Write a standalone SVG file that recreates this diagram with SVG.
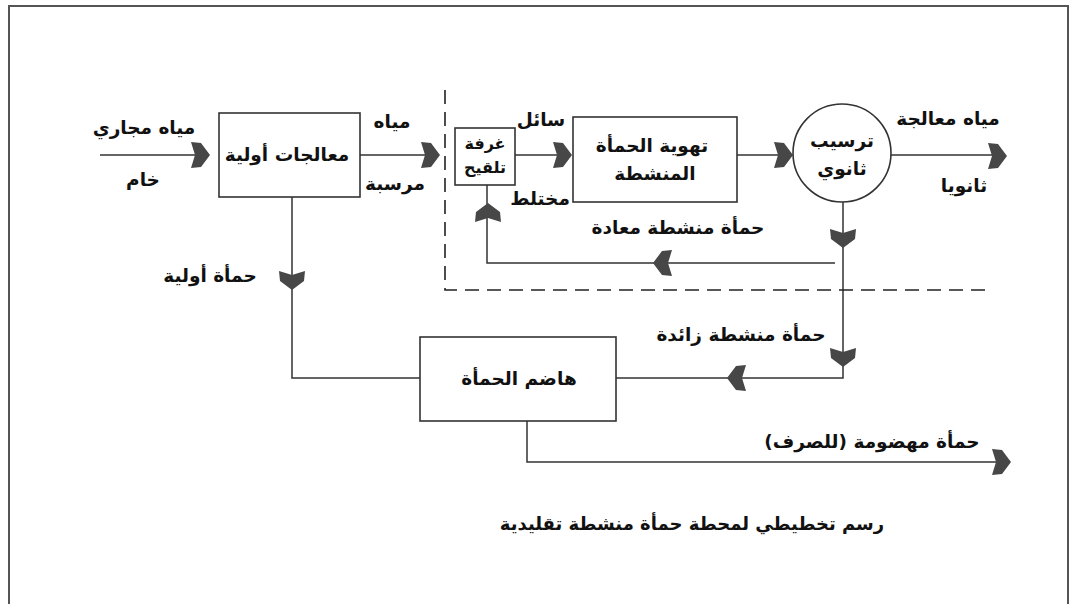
<svg xmlns="http://www.w3.org/2000/svg" width="1071" height="604" viewBox="0 0 1071 604">
<style>
text{font-family:"DejaVu Sans","Noto Sans",sans-serif;font-weight:bold;fill:#111;text-anchor:middle;direction:rtl}
.t{font-size:18.5px}
.s{font-size:16px}
.box{fill:#fff;stroke:#333;stroke-width:1.6}
.ln{fill:none;stroke:#333;stroke-width:1.5}
.dash{fill:none;stroke:#222;stroke-width:1.6;stroke-dasharray:14 8}
.ah{fill:#474747}
</style>
<defs>
<path id="ah" class="ah" d="M0,0 L-9,-12 L-19,-13 L-15,0 L-19,13 L-9,12 Z"/>
</defs>
<rect width="1071" height="604" fill="#fff"/>
<path d="M9,620 V6 H1068 V620" fill="none" stroke="#555" stroke-width="2"/>

<g id="connectors">
<path class="ln" d="M100,155 H205"/>
<path class="ln" d="M360,155 H436"/>
<path class="ln" d="M515,155 H568"/>
<path class="ln" d="M737,155 H789"/>
<path class="ln" d="M891,155 H1002"/>
<path class="ln" d="M843,202 V378 H616"/>
<path class="ln" d="M835,263 H487 V185"/>
<path class="ln" d="M292,197 V378 H420"/>
<path class="ln" d="M527,421 V462 H1005"/>
<path class="dash" d="M445,90 V290 H987"/>
<use href="#ah" transform="translate(210,155)"/>
<use href="#ah" transform="translate(440,155)"/>
<use href="#ah" transform="translate(572,155)"/>
<use href="#ah" transform="translate(793,155)"/>
<use href="#ah" transform="translate(1007,156)"/>
<use href="#ah" transform="translate(843,248) rotate(90)"/>
<use href="#ah" transform="translate(843,367) rotate(90)"/>
<use href="#ah" transform="translate(292,290) rotate(90)"/>
<use href="#ah" transform="translate(653,263) rotate(180)"/>
<use href="#ah" transform="translate(727,378) rotate(180)"/>
<use href="#ah" transform="translate(488,203) rotate(-90)"/>
<use href="#ah" transform="translate(1011,462)"/>
</g>

<g id="labels">
<text class="t" x="144" y="134">مياه مجاري</text>
<text class="t" x="143" y="186">خام</text>
<text class="t" x="392" y="128">مياه</text>
<text class="t" x="395" y="190">مرسبة</text>
<text class="t" x="541" y="126">سائل</text>
<text class="t" x="540" y="205">مختلط</text>
<text class="t" x="948" y="125">مياه معالجة</text>
<text class="t" x="964" y="192">ثانويا</text>
<text class="t" x="678" y="234">حمأة منشطة معادة</text>
<text class="t" x="210" y="282">حمأة أولية</text>
<text class="t" x="741" y="341">حمأة منشطة زائدة</text>
<text class="t" x="872" y="448">حمأة مهضومة (للصرف)</text>
<text class="t" x="692" y="530" style="font-size:18px">رسم تخطيطي لمحطة حمأة منشطة تقليدية</text>
</g>

<g id="primary">
<rect class="box" x="219" y="113" width="141" height="84"/>
<text class="t" x="287" y="161">معالجات أولية</text>
</g>
<g id="inoculation">
<rect class="box" x="455" y="128" width="60" height="57"/>
<text class="s" x="485" y="149">غرفة</text>
<text class="s" x="485" y="173">تلقيح</text>
</g>
<g id="aeration">
<rect class="box" x="573" y="117" width="164" height="85"/>
<text class="t" x="652" y="152">تهوية الحمأة</text>
<text class="t" x="655" y="180">المنشطة</text>
</g>
<g id="clarifier">
<circle cx="842" cy="153" r="49" fill="#fff" stroke="#333" stroke-width="1.6"/>
<text class="t" x="842" y="147">ترسيب</text>
<text class="t" x="842" y="175">ثانوي</text>
</g>
<g id="digester">
<rect class="box" x="420" y="337" width="196" height="84"/>
<text class="t" x="519" y="385">هاضم الحمأة</text>
</g>
</svg>
